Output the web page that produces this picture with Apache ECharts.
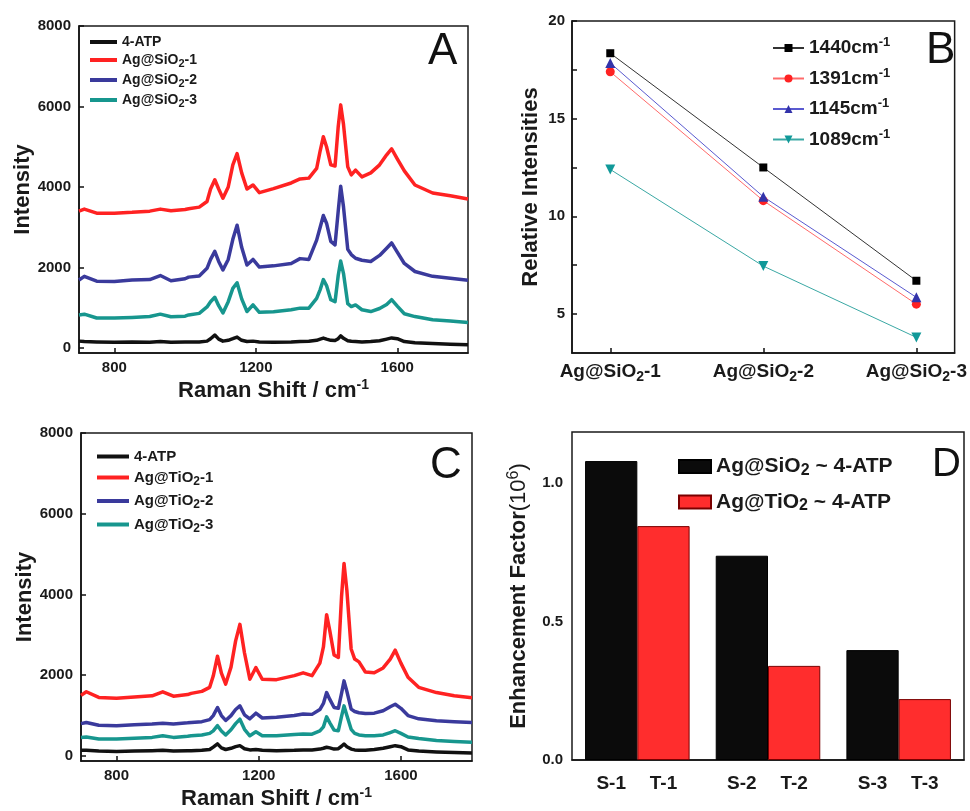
<!DOCTYPE html>
<html><head><meta charset="utf-8">
<script src="https://cdn.jsdelivr.net/npm/echarts@6/dist/echarts.min.js"></script>
<style>html,body{margin:0;padding:0;background:#fff}#c{width:970px;height:811px}</style>
</head><body><div id="c"></div>
<script>
// ---------- DATA ----------
const ramanShift = [700,715,750,800,850,900,930,960,1000,1010,1040,1062,1072,1084,1095,1107,1122,1135,1147,1160,1175,1192,1210,1250,1300,1325,1350,1372,1382,1391,1400,1412,1424,1433,1440,1448,1460,1470,1482,1500,1525,1550,1570,1584,1600,1620,1650,1700,1750,1800];

// Panel A (Ag@SiO2)
const atpA  = [170,160,150,140,150,145,160,140,150,150,150,170,230,320,220,170,190,230,270,190,160,170,150,145,150,160,165,190,220,245,220,190,185,230,300,240,180,165,160,150,160,180,220,250,230,160,130,110,95,80];
const agSi1 = [3400,3450,3350,3350,3370,3400,3450,3410,3440,3460,3500,3640,3950,4180,3950,3720,4000,4550,4830,4350,3950,4050,3860,3960,4100,4200,4220,4460,4900,5250,5000,4550,4520,5500,6040,5550,4500,4300,4420,4250,4350,4550,4800,4950,4700,4400,4050,3850,3780,3700];
const agSi2 = [1690,1780,1660,1650,1690,1700,1800,1670,1720,1760,1790,1980,2200,2400,2150,1940,2200,2700,3050,2500,2060,2200,2010,2040,2100,2220,2200,2680,3000,3290,3100,2650,2560,3400,4020,3500,2450,2320,2230,2180,2150,2300,2480,2610,2380,2100,1900,1780,1730,1680];
const agSi3 = [820,840,745,745,760,780,840,775,790,820,860,1020,1150,1260,1050,870,1150,1480,1620,1220,905,1070,885,900,950,990,990,1230,1450,1700,1550,1200,1150,1800,2160,1850,1100,1030,1070,950,905,980,1080,1200,1040,850,780,700,670,630];

// Panel C (Ag@TiO2)
const atpC  = [140,140,120,110,120,130,140,120,130,130,140,160,220,300,200,160,190,230,255,180,150,160,140,130,140,150,150,170,190,215,200,170,180,240,295,230,170,150,140,140,160,190,230,255,230,150,120,100,85,75];
const agTi1 = [1500,1590,1450,1430,1460,1490,1590,1480,1520,1550,1600,1700,1980,2470,2050,1780,2200,2850,3260,2550,1900,2190,1900,1890,1990,2060,1990,2300,2700,3500,3100,2500,2440,3950,4770,4100,2650,2400,2330,2080,2060,2180,2400,2620,2300,1950,1700,1570,1490,1440];
const agTi2 = [800,830,760,750,770,790,810,790,820,830,850,900,1000,1200,1000,880,1000,1150,1240,1020,920,1060,940,960,1000,1040,1030,1150,1300,1570,1400,1200,1180,1550,1860,1600,1160,1100,1070,1050,1060,1120,1220,1280,1180,1000,920,870,850,830];
const agTi3 = [460,470,420,420,440,460,500,460,490,500,520,560,620,750,620,520,650,800,910,660,500,600,500,500,530,545,540,620,720,970,820,640,625,980,1240,1000,660,560,520,500,500,520,580,625,560,470,430,380,360,340];

const specNamesA = ['4-ATP','Ag@SiO2-1','Ag@SiO2-2','Ag@SiO2-3'];
const specNamesC = ['4-ATP','Ag@TiO2-1','Ag@TiO2-2','Ag@TiO2-3'];
const specColors = ['#111111','#ff2222','#3a3a9c','#17968e'];

// Panel B
const sampleLabels = ['Ag@SiO2-1','Ag@SiO2-2','Ag@SiO2-3'];
const peakNames = ['1440','1391','1145','1089'];
const rel1440 = [18.35, 12.5, 6.7];
const rel1391 = [17.4, 10.8, 5.5];
const rel1145 = [17.85, 11.0, 5.85];
const rel1089 = [12.4, 7.45, 3.8];

// Panel D
const efGroups = ['1','2','3'];
const efLabelsS = ['S-1','S-2','S-3'];
const efLabelsT = ['T-1','T-2','T-3'];
const efSiO2 = [1.08, 0.738, 0.397];
const efTiO2 = [0.845, 0.34, 0.22];
const efNames = ['Ag@SiO2 ~ 4-ATP','Ag@TiO2 ~ 4-ATP'];

// Tick values
const shiftTicks = [800,1200,1600];
const intensityTicks = [0,2000,4000,6000,8000];
const relTicks = [5,10,15,20];
const relMinor = [5,7.5,10,12.5,15,17.5,20];
const sampleTicks = [0,1,2];
const efTicks = [0,0.5,1.0];
const efMinor = [0,0.25,0.5,0.75,1.0];

// ---------- HELPERS ----------
const FONT = '"Liberation Sans", Arial, sans-serif';
const TXT = '#1a1a1a';
function subRich(s){ return '{n|' + s.replace('O2', 'O}{s|2}{n|') + '}'; }
function richSub(fs, lh, subFs){
  return {
    n:{fontSize:fs, fontWeight:'bold', fontFamily:FONT, color:TXT, lineHeight:lh},
    s:{fontSize:subFs, fontWeight:'bold', fontFamily:FONT, color:TXT, lineHeight:Math.round(lh*0.45), verticalAlign:'bottom'}
  };
}
function richSup(fs, lh, supFs){
  return {
    n:{fontSize:fs, fontWeight:'bold', fontFamily:FONT, color:TXT, lineHeight:lh},
    p:{fontSize:supFs, fontWeight:'bold', fontFamily:FONT, color:TXT, lineHeight:Math.round(lh*0.35), verticalAlign:'top'}
  };
}
const axLine = {onZero:false, lineStyle:{color:'#111', width:1.5}};
const lbl = (m) => ({margin:m, fontFamily:FONT, fontWeight:'bold', fontSize:15, color:TXT, formatter:(v)=>String(v)});
const zip = (xs, ys) => xs.map((x,i)=>[x, ys[i]]);

function specX(gi){
  return {gridIndex:gi, type:'value', min:700, max:1800,
    axisLine:axLine,
    axisTick:{inside:true, length:5, customValues:shiftTicks, lineStyle:{color:'#111',width:1.5}},
    axisLabel:Object.assign(lbl(7), {customValues:shiftTicks}),
    splitLine:{show:false},
    name:'{n|Raman Shift / cm}{p|-1}', nameLocation:'middle', nameGap:25,
    nameTextStyle:{rich:richSup(22, 26, 14)}};
}
function specY(gi, gap){
  return {gridIndex:gi, type:'value', min:-125, max:8000,
    axisLine:axLine,
    axisTick:{inside:true, length:5, customValues:intensityTicks, lineStyle:{color:'#111',width:1.5}},
    axisLabel:Object.assign(lbl(8), {customValues:intensityTicks}),
    splitLine:{show:false},
    name:'Intensity', nameLocation:'middle', nameGap:gap,
    nameTextStyle:{fontSize:22, fontWeight:'bold', fontFamily:FONT, color:TXT}};
}
function specSeries(names, arrays, axisIdx){
  return names.map((nm,i)=>({type:'line', name:nm, xAxisIndex:axisIdx, yAxisIndex:axisIdx,
    data:zip(ramanShift, arrays[i]), symbol:'none', showSymbol:false,
    lineStyle:{width:3.5, color:specColors[i], join:'round'}, itemStyle:{color:specColors[i]}, z:3}));
}
const relSets = [rel1440, rel1391, rel1145, rel1089];
const relStyle = [
  {sym:'rect', size:8, rot:0, c:'#000000', lc:'#333333'},
  {sym:'circle', size:9, rot:0, c:'#ff2222', lc:'#ff6a6a'},
  {sym:'triangle', size:10, rot:0, c:'#3333aa', lc:'#5a5ad0'},
  {sym:'triangle', size:10, rot:180, c:'#119999', lc:'#3aa8a4'}
];

const gridStyle = {show:true, borderColor:'#1a1a1a', borderWidth:1.5, backgroundColor:'transparent'};

const option = {
  animation:false,
  backgroundColor:'#ffffff',
  grid:[
    Object.assign({left:79, top:26, width:389, height:327}, gridStyle),
    Object.assign({left:572, top:21, width:392, height:332}, gridStyle),
    Object.assign({left:81, top:433, width:391, height:329}, gridStyle),
    Object.assign({left:572, top:432, width:392, height:328}, gridStyle)
  ],
  xAxis:[
    specX(0),
    {gridIndex:1, type:'value', min:-0.25, max:2.25, axisLine:axLine,
     axisTick:{inside:true, length:5, customValues:sampleTicks, lineStyle:{color:'#111',width:1.5}},
     axisLabel:{customValues:sampleTicks, margin:7, formatter:(v)=>subRich(sampleLabels[Math.round(v)]), rich:richSub(19, 24, 14)},
     splitLine:{show:false}},
    specX(2),
    {gridIndex:3, type:'category', data:efGroups, boundaryGap:true, axisLine:axLine,
     axisTick:{show:false}, axisLabel:{show:false}}
  ],
  yAxis:[
    specY(0, 42),
    {gridIndex:1, type:'value', min:3, max:20, axisLine:axLine,
     axisTick:{inside:true, length:5, customValues:relMinor, lineStyle:{color:'#111',width:1.5}},
     axisLabel:Object.assign(lbl(7), {customValues:relTicks}),
     splitLine:{show:false},
     name:'Relative Intensities', nameLocation:'middle', nameGap:30,
     nameTextStyle:{fontSize:22, fontWeight:'bold', fontFamily:FONT, color:TXT}},
    specY(2, 45),
    {gridIndex:3, type:'value', min:0, max:1.185, axisLine:axLine,
     axisTick:{inside:true, length:5, customValues:efMinor, lineStyle:{color:'#111',width:1.5}},
     axisLabel:Object.assign(lbl(9), {customValues:efTicks, formatter:(v)=>v.toFixed(1)}),
     splitLine:{show:false},
     name:'{n|Enhancement Factor}{m|(10}{p|6}{m|)}', nameLocation:'middle', nameGap:40,
     nameTextStyle:{rich:{
       n:{fontSize:22, fontWeight:'bold', fontFamily:FONT, color:TXT, lineHeight:26},
       m:{fontSize:22, fontWeight:'normal', fontFamily:FONT, color:TXT, lineHeight:26},
       p:{fontSize:16, fontWeight:'normal', fontFamily:FONT, color:TXT, lineHeight:9, verticalAlign:'top'}}}}
  ],
  legend:[
    {data:specNamesA, orient:'vertical', left:90, top:35, padding:0, itemGap:4, itemWidth:27, itemHeight:4, icon:'rect',
     formatter:subRich, textStyle:{rich:richSub(14, 18, 11)}},
    {data:peakNames.map(p=>p+'cm-1'), orient:'vertical', left:772, top:36, padding:0, itemGap:9, itemWidth:31, itemHeight:10,
     formatter:(nm)=>'{n|'+nm.replace('cm-1','cm')+'}{p|-1}', textStyle:{rich:richSup(19, 24, 13)}},
    {data:specNamesC, orient:'vertical', left:97, top:449, padding:0, itemGap:6, itemWidth:32, itemHeight:4, icon:'rect',
     formatter:subRich, textStyle:{rich:richSub(15, 20, 12)}},
    {data:efNames, orient:'vertical', left:678, top:456, padding:0, itemGap:13, itemWidth:32, itemHeight:13, icon:'rect',
     formatter:subRich, textStyle:{rich:richSub(21, 24, 16)}}
  ],
  graphic:[
    {type:'text', left:428, top:30, style:{text:'A', font:'44px "Liberation Sans", Arial', fill:'#111'}},
    {type:'text', left:926, top:29, style:{text:'B', font:'44px "Liberation Sans", Arial', fill:'#111'}},
    {type:'text', left:430, top:444, style:{text:'C', font:'44px "Liberation Sans", Arial', fill:'#111'}},
    {type:'text', left:932, top:445, style:{text:'D', font:'40px "Liberation Sans", Arial', fill:'#111'}}
  ],
  series:[
    ...specSeries(specNamesA, [atpA, agSi1, agSi2, agSi3], 0),
    ...specSeries(specNamesC, [atpC, agTi1, agTi2, agTi3], 2),
    ...relSets.map((arr,i)=>({type:'line', name:peakNames[i]+'cm-1', xAxisIndex:1, yAxisIndex:1,
      data:zip(sampleTicks, arr), symbol:relStyle[i].sym, symbolSize:relStyle[i].size, symbolRotate:relStyle[i].rot,
      lineStyle:{width:1, color:relStyle[i].lc}, itemStyle:{color:relStyle[i].c}, z:3})),
    {type:'bar', name:efNames[0], xAxisIndex:3, yAxisIndex:3, data:efSiO2, barGap:'0%', barCategoryGap:'20%',
     itemStyle:{color:'#0b0b0b', borderColor:'#000', borderWidth:1},
     label:{show:true, position:'bottom', distance:14, formatter:(p)=>efLabelsS[p.dataIndex],
       fontFamily:FONT, fontWeight:'bold', fontSize:19, color:TXT}},
    {type:'bar', name:efNames[1], xAxisIndex:3, yAxisIndex:3, data:efTiO2, barGap:'0%', barCategoryGap:'20%',
     itemStyle:{color:'#ff2d2d', borderColor:'#7a0000', borderWidth:1},
     label:{show:true, position:'bottom', distance:14, formatter:(p)=>efLabelsT[p.dataIndex],
       fontFamily:FONT, fontWeight:'bold', fontSize:19, color:TXT}}
  ]
};
const chart = echarts.init(document.getElementById('c'), null, {renderer:'canvas'});
chart.setOption(option);
</script></body></html>
